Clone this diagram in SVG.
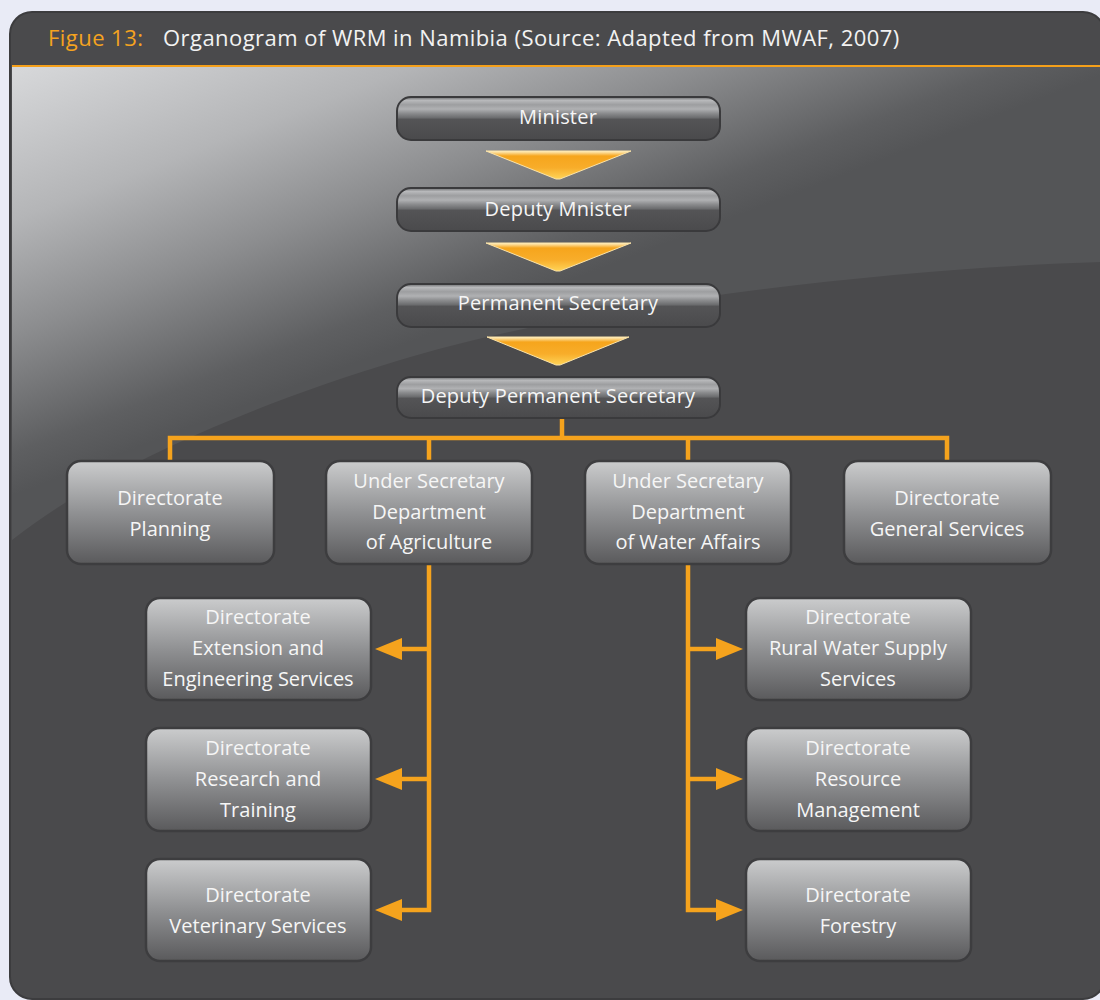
<svg xmlns="http://www.w3.org/2000/svg" width="1100" height="1000" viewBox="0 0 1100 1000">
<defs>
<style>
.t{font-family:"Open Sans","Noto Sans","DejaVu Sans",sans-serif;fill:#f6f6f6;text-anchor:middle}
.pt{font-size:20px;letter-spacing:0.2px}
.bt{font-size:20px}
.ttl{font-family:"Open Sans","Noto Sans","DejaVu Sans",sans-serif;font-size:22px;letter-spacing:0.45px}
.pill{fill:url(#pillGrad);stroke:#3a3a3c;stroke-width:2}
.box{fill:url(#boxGrad);stroke:#3d3d3f;stroke-width:2.5}
.tri{fill:url(#triGrad);stroke:#fbe3a8;stroke-width:1;stroke-linejoin:round}
.con{fill:none;stroke:#f5a31d;stroke-width:4.5;stroke-linejoin:miter}
</style>
<linearGradient id="bgGrad" gradientUnits="userSpaceOnUse" x1="20" y1="70" x2="162" y2="438">
<stop offset="0" stop-color="#d6d7d9"/>
<stop offset="0.35" stop-color="#b4b5b7"/>
<stop offset="0.62" stop-color="#8c8d8f"/>
<stop offset="0.9" stop-color="#5e5f61"/>
<stop offset="1" stop-color="#545557"/>
</linearGradient>
<linearGradient id="pillGrad" x1="0" y1="0" x2="0" y2="1">
<stop offset="0" stop-color="#6a6b6d"/>
<stop offset="0.08" stop-color="#b8b9bb"/>
<stop offset="0.18" stop-color="#9d9ea0"/>
<stop offset="0.28" stop-color="#b0b1b3"/>
<stop offset="0.38" stop-color="#8b8c8e"/>
<stop offset="0.48" stop-color="#6c6d6f"/>
<stop offset="0.52" stop-color="#545456"/>
<stop offset="1" stop-color="#4a4a4c"/>
</linearGradient>
<linearGradient id="boxGrad" x1="0" y1="0" x2="0" y2="1">
<stop offset="0" stop-color="#cbcccd"/>
<stop offset="0.5" stop-color="#909193"/>
<stop offset="1" stop-color="#5a5a5c"/>
</linearGradient>
<linearGradient id="triGrad" x1="0" y1="0" x2="0" y2="1">
<stop offset="0" stop-color="#fff2c8"/>
<stop offset="0.18" stop-color="#f6a51c"/>
<stop offset="0.6" stop-color="#f8ad2a"/>
<stop offset="1" stop-color="#ffd457"/>
</linearGradient>
<marker id="arr" markerUnits="userSpaceOnUse" markerWidth="28" markerHeight="24" viewBox="0 0 27 24" refX="0" refY="12" orient="auto">
<path d="M0,1 L27,12 L0,23 Z" fill="#f5a31d"/>
</marker>
</defs>

<rect x="0" y="0" width="1100" height="1000" fill="#e9ebf6"/>
<g id="panel">
<rect x="10" y="12" width="1095" height="987" rx="22" fill="#4a4a4c" stroke="#3c3c3e" stroke-width="2"/>
<path d="M12,67 H1102 V262 C900,268 600,300 400,360 C250,405 100,470 12,540 Z" fill="url(#bgGrad)"/>
<line x1="12" y1="66" x2="1102" y2="66" stroke="#f5a01a" stroke-width="2"/>
<text class="ttl" x="48" y="46" fill="#f5a31f">Figue 13:</text>
<text class="ttl" x="163" y="46" fill="#f2f2f2">Organogram of WRM in Namibia (Source: Adapted from MWAF, 2007)</text>
</g>

<g id="connectors">
<polygon class="tri" points="486,151 631,151 560,179 556,179"/>
<polygon class="tri" points="486,243 631,243 560,271 556,271"/>
<polygon class="tri" points="487,337 629,337 560,365 556,365"/>
<path class="con" d="M562,418 V438"/>
<path class="con" d="M170,462 V438 H947 V462"/>
<path class="con" d="M429,438 V462"/>
<path class="con" d="M688,438 V462"/>
<path class="con" d="M429,565 V910 H402" marker-end="url(#arr)"/>
<path class="con" d="M429,649 H402" marker-end="url(#arr)"/>
<path class="con" d="M429,779 H402" marker-end="url(#arr)"/>
<path class="con" d="M688,565 V910 H716" marker-end="url(#arr)"/>
<path class="con" d="M688,649 H716" marker-end="url(#arr)"/>
<path class="con" d="M688,779 H716" marker-end="url(#arr)"/>
</g>

<g id="minister"><rect class="pill" x="397" y="97" width="323" height="43" rx="14"/><text class="t pt" x="558" y="124">Minister</text></g>
<g id="deputy-minister"><rect class="pill" x="397" y="188" width="323" height="43" rx="14"/><text class="t pt" x="558" y="216">Deputy Mnister</text></g>
<g id="permanent-secretary"><rect class="pill" x="397" y="284" width="323" height="43" rx="14"/><text class="t pt" x="558" y="310">Permanent Secretary</text></g>
<g id="deputy-permanent-secretary"><rect class="pill" x="397" y="377" width="323" height="41" rx="14"/><text class="t pt" x="558" y="403">Deputy Permanent Secretary</text></g>

<g id="dir-planning"><rect class="box" x="67" y="461" width="207" height="103" rx="14"/><text class="t bt" x="170" y="505">Directorate</text><text class="t bt" x="170" y="536">Planning</text></g>
<g id="us-agriculture"><rect class="box" x="326" y="461" width="206" height="103" rx="14"/><text class="t bt" x="429" y="488">Under Secretary</text><text class="t bt" x="429" y="519">Department</text><text class="t bt" x="429" y="549">of Agriculture</text></g>
<g id="us-water"><rect class="box" x="585" y="461" width="206" height="103" rx="14"/><text class="t bt" x="688" y="488">Under Secretary</text><text class="t bt" x="688" y="519">Department</text><text class="t bt" x="688" y="549">of Water Affairs</text></g>
<g id="dir-general"><rect class="box" x="844" y="461" width="207" height="103" rx="14"/><text class="t bt" x="947" y="505">Directorate</text><text class="t bt" x="947" y="536">General Services</text></g>

<g id="dir-extension"><rect class="box" x="146" y="598" width="225" height="102" rx="14"/><text class="t bt" x="258" y="624">Directorate</text><text class="t bt" x="258" y="655">Extension and</text><text class="t bt" x="258" y="686">Engineering Services</text></g>
<g id="dir-research"><rect class="box" x="146" y="728" width="225" height="103" rx="14"/><text class="t bt" x="258" y="755">Directorate</text><text class="t bt" x="258" y="786">Research and</text><text class="t bt" x="258" y="817">Training</text></g>
<g id="dir-veterinary"><rect class="box" x="146" y="859" width="225" height="102" rx="14"/><text class="t bt" x="258" y="902">Directorate</text><text class="t bt" x="258" y="933">Veterinary Services</text></g>

<g id="dir-rural-water"><rect class="box" x="746" y="598" width="225" height="102" rx="14"/><text class="t bt" x="858" y="624">Directorate</text><text class="t bt" x="858" y="655">Rural Water Supply</text><text class="t bt" x="858" y="686">Services</text></g>
<g id="dir-resource"><rect class="box" x="746" y="728" width="225" height="103" rx="14"/><text class="t bt" x="858" y="755">Directorate</text><text class="t bt" x="858" y="786">Resource</text><text class="t bt" x="858" y="817">Management</text></g>
<g id="dir-forestry"><rect class="box" x="746" y="859" width="225" height="102" rx="14"/><text class="t bt" x="858" y="902">Directorate</text><text class="t bt" x="858" y="933">Forestry</text></g>
</svg>
